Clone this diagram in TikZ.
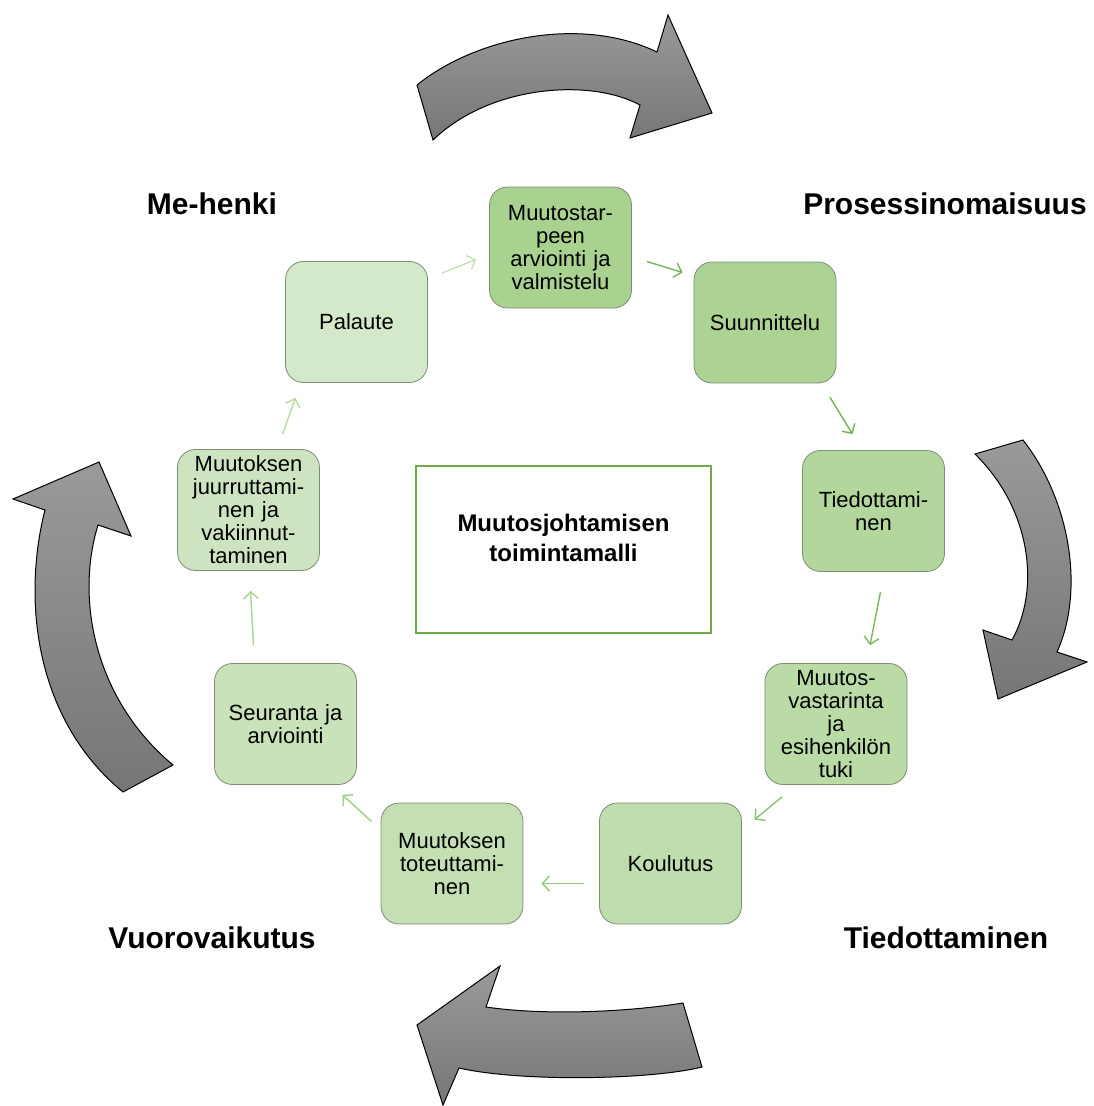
\documentclass[tikz,border=0pt]{standalone}
\usepackage{fontspec}
\setmainfont{Liberation Sans}
\usetikzlibrary{arrows.meta,calc}

% box fills, darkest at the start of the cycle
\definecolor{fA}{HTML}{A9D18F}
\definecolor{fB}{HTML}{ADD394}
\definecolor{fC}{HTML}{B3D69C}
\definecolor{fD}{HTML}{BADAA6}
\definecolor{fE}{HTML}{C0DDAE}
\definecolor{fF}{HTML}{C4DFB3}
\definecolor{fG}{HTML}{C9E2B9}
\definecolor{fH}{HTML}{CEE4C0}
\definecolor{fI}{HTML}{D4E8CA}
% connector greens, fading along the cycle
\definecolor{aA}{HTML}{74B657}
\definecolor{aB}{HTML}{6FB54F}
\definecolor{aC}{HTML}{78B95B}
\definecolor{aD}{HTML}{89C26E}
\definecolor{aE}{HTML}{94C87B}
\definecolor{aF}{HTML}{9CCC85}
\definecolor{aG}{HTML}{A9D392}
\definecolor{aH}{HTML}{B8DAA6}
\definecolor{aI}{HTML}{C6E1B7}
\definecolor{boxline}{HTML}{7E8C77}
\definecolor{coreline}{HTML}{70AD47}
\definecolor{greytop}{HTML}{9A9A9A}
\definecolor{greybot}{HTML}{767676}

\tikzset{
  stepbox/.style={draw=boxline, line width=0.8pt, rounded corners=18pt,
    minimum width=142pt, minimum height=121pt, inner sep=0pt,
    text width=136pt, align=center, font=\fontsize{22}{23}\selectfont},
  conn/.style={line width=1.4pt, -{Straight Barb[length=7pt,width=15pt]}},
  cornerlabel/.style={font=\fontsize{30}{34}\selectfont\bfseries, inner sep=0pt},
  bigarrow/.style={draw=black, line width=1pt, line join=miter,
    top color=greytop, bottom color=greybot},
}

\begin{document}
\begin{tikzpicture}[x=1pt, y=-1pt]
\useasboundingbox (0,0) rectangle (1093,1106);

% cycle of steps
\node[stepbox, fill=fA] (m1) at (560.5,247.5) {Muutostar-\\peen\\arviointi ja\\valmistelu};
\node[stepbox, fill=fB] (m2) at (765,322.5) {Suunnittelu};
\node[stepbox, fill=fC] (m3) at (873.5,511) {Tiedottami-\\nen};
\node[stepbox, fill=fD] (m4) at (836,724) {Muutos-\\vastarinta\\ja\\esihenkilön\\tuki};
\node[stepbox, fill=fE] (m5) at (670.5,863.5) {Koulutus};
\node[stepbox, fill=fF] (m6) at (452,863.5) {Muutoksen\\toteuttami-\\nen};
\node[stepbox, fill=fG] (m7) at (285.5,724) {Seuranta ja\\arviointi};
\node[stepbox, fill=fH] (m8) at (248.5,510) {Muutoksen\\juurruttami-\\nen ja\\vakiinnut-\\taminen};
\node[stepbox, fill=fI] (m9) at (356.5,322) {Palaute};

% central model box
\node[draw=coreline, line width=1.3pt, minimum width=295pt, minimum height=167pt] (core) at (563.5,549.5) {};
\node[align=center, font=\fontsize{24}{30}\selectfont\bfseries] (coretext) at (563.5,538) {Muutosjohtamisen\\toimintamalli};

% corner labels
\node[cornerlabel] (lab1) at (212,204) {Me-henki};
\node[cornerlabel] (lab2) at (945,204) {Prosessinomaisuus};
\node[cornerlabel] (lab3) at (946,938) {Tiedottaminen};
\node[cornerlabel] (lab4) at (212,938) {Vuorovaikutus};

% connectors between steps
\draw[conn, aA] ($(m1.east)+(15,14)$) -- ($(m2.west)+(-11,-50)$);
\draw[conn, aB] ($(m2.south)+(65,14)$) -- ($(m3.north)+(-21,-16)$);
\draw[conn, aC] ($(m3.south)+(7,20)$) -- ($(m4.north)+(34,-18)$);
\draw[conn, aD] ($(m4.south)+(-54,12)$) -- ($(m5.north)+(84,17)$);
\draw[conn, aE] ($(m5.west)+(-15,20)$) -- ($(m6.east)+(18,20)$);
\draw[conn, aF] ($(m6.west)+(-9,-42)$) -- ($(m7.south)+(57,10)$);
\draw[conn, aG] ($(m7.north)+(-32,-18)$) -- ($(m8.south)+(2,20)$);
\draw[conn, aH] ($(m8.north)+(34,-15)$) -- ($(m9.south)+(-61,15)$);
\draw[conn, aI] ($(m9.east)+(14,-49)$) -- ($(m1.west)+(-13,12)$);

% large curved arrows around the cycle
% top
\draw[bigarrow] (417,85) .. controls (475,38) and (580,15) .. (657,52)
  -- (668,15) -- (712,113) -- (630,138) -- (640,105)
  .. controls (590,78) and (490,85) .. (433,140) -- cycle;
% right
\draw[bigarrow] (975,454) -- (1023,440)
  .. controls (1070,500) and (1085,590) .. (1057,652)
  -- (1087,662) -- (998,699) -- (983,630) -- (1012,640)
  .. controls (1040,590) and (1032,510) .. (975,454) -- cycle;
% bottom
\draw[bigarrow] (683,1003) -- (702,1067)
  .. controls (650,1080) and (520,1082) .. (459,1068)
  -- (443,1105) -- (417,1025) -- (500,966) -- (486,1007)
  .. controls (540,1015) and (620,1013) .. (683,1003) -- cycle;
% left
\draw[bigarrow] (173,765) -- (123,792)
  .. controls (35,720) and (22,600) .. (45,510)
  -- (13,499) -- (99,462) -- (131,536) -- (98,525)
  .. controls (75,600) and (95,700) .. (173,765) -- cycle;
\end{tikzpicture}
\end{document}
